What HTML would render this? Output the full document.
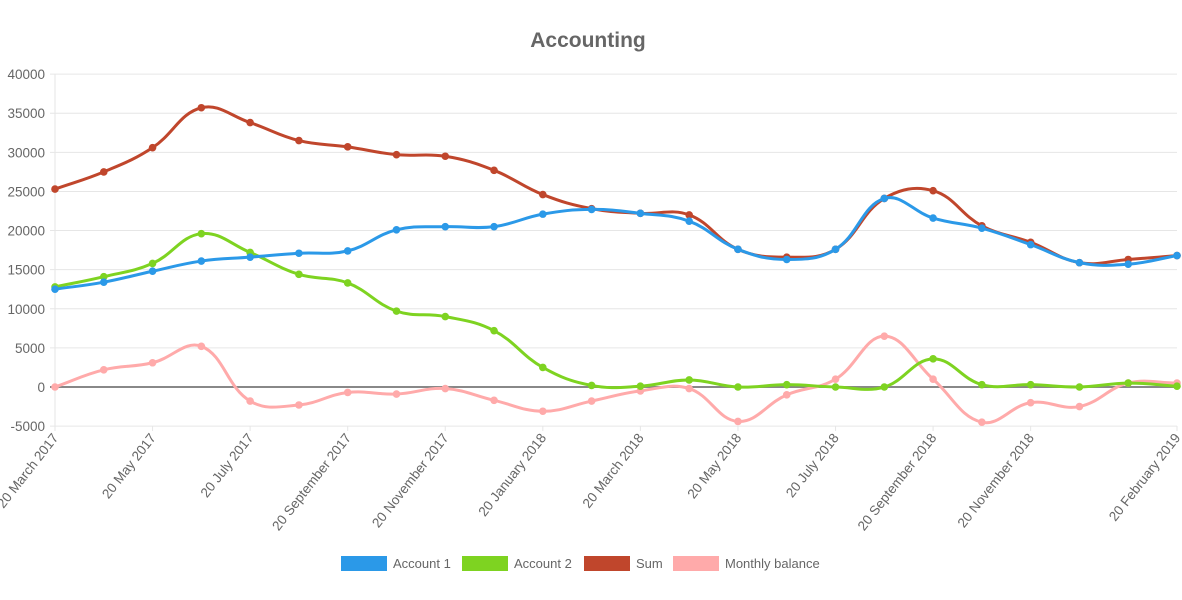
<!DOCTYPE html>
<html><head><meta charset="utf-8">
<style>
html,body{margin:0;padding:0;background:#fff;}
svg{display:block;font-family:"Liberation Sans",sans-serif;}
</style></head>
<body>
<svg id="c" width="1182" height="600" xmlns="http://www.w3.org/2000/svg">
<text x="588" y="47" text-anchor="middle" font-size="21" font-weight="bold" fill="#666">Accounting</text>
<g id="grid"></g>
<g id="lines"></g>
<g id="legend" font-size="13" fill="#666">
<rect x="341" y="556" width="46" height="15" fill="#2b99e8"/><text x="393" y="568">Account 1</text>
<rect x="462" y="556" width="46" height="15" fill="#7ed321"/><text x="514" y="568">Account 2</text>
<rect x="584" y="556" width="46" height="15" fill="#c0462c"/><text x="636" y="568">Sum</text>
<rect x="673" y="556" width="46" height="15" fill="#ffaaaa"/><text x="725" y="568">Monthly balance</text>
</g>
</svg>
<script>
var NS="http://www.w3.org/2000/svg";
function el(t,a,p,txt){var e=document.createElementNS(NS,t);for(var k in a)e.setAttribute(k,a[k]);if(txt!=null)e.textContent=txt;p.appendChild(e);return e;}
var x0=55,x1=1177,n=24,dx=(x1-x0)/(n-1);
function X(i){return x0+i*dx;}
function Y(v){return 387-v*352/45000;}
var g=document.getElementById('grid');
for(var v=-5000;v<=40000;v+=5000){
 el('line',{x1:x0-5,x2:x1,y1:Y(v),y2:Y(v),stroke:v==0?'#888':'#e6e6e6','stroke-width':v==0?2:1},g);
 el('text',{x:45,y:Y(v)+5,'text-anchor':'end','font-size':13.5,fill:'#666'},g,String(v));
}
el('line',{x1:x0,x2:x0,y1:74,y2:431,stroke:'#e6e6e6'},g);
var months=["March 2017","May 2017","July 2017","September 2017","November 2017","January 2018","March 2018","May 2018","July 2018","September 2018","November 2018"];
var idx=[0,2,4,6,8,10,12,14,16,18,20,23];
var labs=months.concat(["February 2019"]);
for(var j=0;j<idx.length;j++){
 var x=X(idx[j]);
 el('line',{x1:x,x2:x,y1:426,y2:431,stroke:'#e6e6e6'},g);
 el('text',{x:x+4,y:438,'text-anchor':'end','font-size':13.5,fill:'#666',transform:'rotate(-52 '+(x+4)+' 438)'},g,"20 "+labs[j]);
}
var S=[
 ['#ffaaaa',[0,2200,3100,5200,-1800,-2300,-700,-900,-200,-1700,-3100,-1800,-500,-200,-4400,-1000,1000,6500,1000,-4500,-2000,-2500,500,500]],
 ['#c0462c',[25300,27500,30600,35700,33800,31500,30700,29700,29500,27700,24600,22800,22200,22000,17600,16600,17600,24100,25100,20600,18500,15900,16300,16800]],
 ['#7ed321',[12800,14100,15800,19600,17200,14400,13300,9700,9000,7200,2500,200,100,900,0,300,0,0,3600,300,300,0,500,100]],
 ['#2b99e8',[12500,13400,14800,16100,16600,17100,17400,20100,20500,20500,22100,22700,22200,21200,17600,16300,17600,24100,21600,20300,18200,15900,15700,16800]]
];
var L=document.getElementById('lines'),t=0.4;
S.forEach(function(s){
 var p=s[1].map(function(v,i){return [X(i),Y(v)];});
 var cp=[];
 for(var i=0;i<n;i++){
  var pr=p[Math.max(i-1,0)],c=p[i],nx=p[Math.min(i+1,n-1)];
  var d01=Math.hypot(c[0]-pr[0],c[1]-pr[1]),d12=Math.hypot(nx[0]-c[0],nx[1]-c[1]);
  var fa=d01/(d01+d12)||0,fb=d12/(d01+d12)||0;fa*=t;fb*=t;
  cp.push([[c[0]-fa*(nx[0]-pr[0]),c[1]-fa*(nx[1]-pr[1])],[c[0]+fb*(nx[0]-pr[0]),c[1]+fb*(nx[1]-pr[1])]]);
 }
 var d='M'+p[0][0]+','+p[0][1];
 for(var i=1;i<n;i++){d+=' C'+cp[i-1][1][0]+','+cp[i-1][1][1]+' '+cp[i][0][0]+','+cp[i][0][1]+' '+p[i][0]+','+p[i][1];}
 el('path',{d:d,fill:'none',stroke:s[0],'stroke-width':3},L);
 p.forEach(function(q){el('circle',{cx:q[0],cy:q[1],r:3.8,fill:s[0]},L);});
});
</script>
</body></html>
